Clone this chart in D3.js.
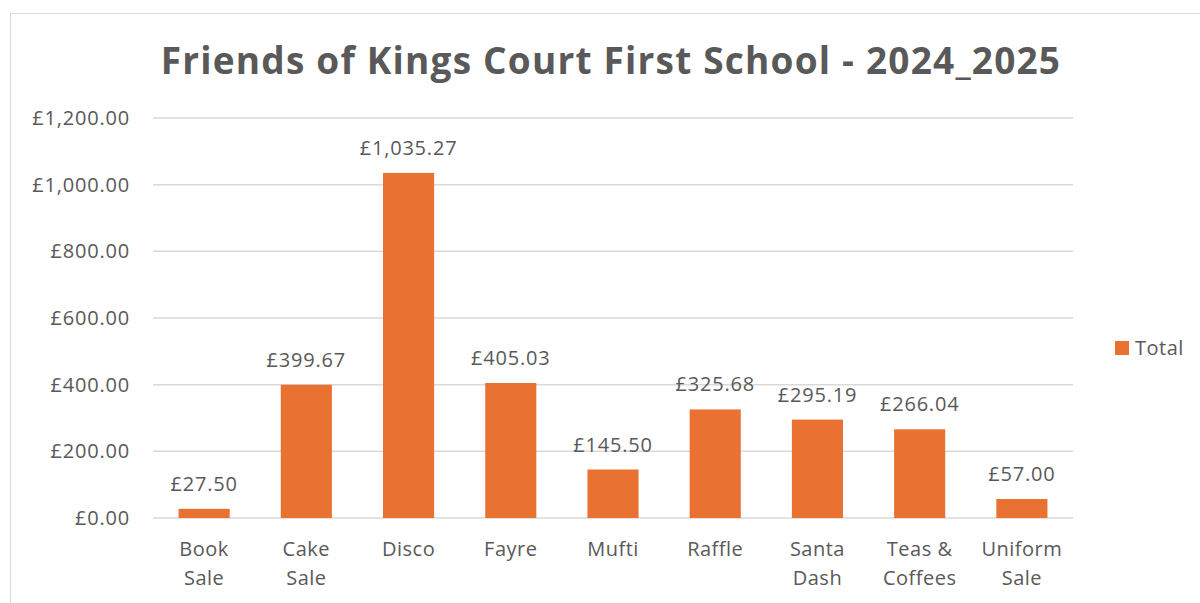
<!DOCTYPE html>
<meta charset="utf-8">
<style>
body { margin: 0; background: #fff; }
text { font-family: "Open Sans", Lato, sans-serif; fill: #595959; }
.bar { fill: #E97132; }
.grid line { stroke: #d9d9d9; stroke-width: 1.5; }
</style>
<body>
<script src="https://cdnjs.cloudflare.com/ajax/libs/d3/7.8.5/d3.min.js"></script>
<script>

// Data
var categories = ["Book Sale", "Cake Sale", "Disco", "Fayre", "Mufti", "Raffle", "Santa Dash", "Teas & Coffees", "Uniform Sale"];
var totals = [27.50, 399.67, 1035.27, 405.03, 145.50, 325.68, 295.19, 266.04, 57.00];
var yTicks = [0, 200, 400, 600, 800, 1000, 1200];
var seriesName = "Total";

var W = 1200, H = 603;
var margin = {top: 118, right: 127, bottom: 85, left: 153},
    width = W - margin.left - margin.right,
    height = H - margin.top - margin.bottom;

var svg = d3.select("body").append("svg")
    .attr("width", W)
    .attr("height", H);

// chart border
svg.append("rect")
    .attr("x", 10.5).attr("y", 13.5)
    .attr("width", W).attr("height", H)
    .attr("fill", "none").attr("stroke", "#d9d9d9").attr("stroke-width", 1);

svg.append("text")
    .attr("x", 611).attr("y", 74)
    .attr("text-anchor", "middle")
    .attr("font-size", "37px")
    .attr("font-weight", "bold")
    .attr("letter-spacing", "1.2px")
    .text("Friends of Kings Court First School - 2024_2025");

var g = svg.append("g")
    .attr("transform", "translate(" + margin.left + "," + margin.top + ")");

var x = d3.scaleBand().domain(categories).range([0, width]).paddingInner(0.5).paddingOuter(0.25);
var y = d3.scaleLinear().domain([0, 1200]).range([height, 0]);

var fmt = function(v) { return "£" + d3.format(",.2f")(v); };

// gridlines
g.append("g").attr("class", "grid")
    .selectAll("line").data(yTicks).enter().append("line")
    .attr("x1", 0).attr("x2", width)
    .attr("y1", function(d) { return y(d); })
    .attr("y2", function(d) { return y(d); });

// y axis
var yAxis = g.append("g")
    .call(d3.axisLeft(y).tickValues(yTicks).tickFormat(fmt).tickSize(0).tickPadding(23));
yAxis.select(".domain").remove();
yAxis.selectAll("text").attr("font-size", "20px").attr("letter-spacing", "0.8px")
    .attr("fill", "#595959").style("font-family", "'Open Sans', sans-serif");

var rows = categories.map(function(c, i) { return {cat: c, val: totals[i]}; });

// bars
g.selectAll(".bar").data(rows).enter().append("rect")
    .attr("class", "bar")
    .attr("x", function(d) { return x(d.cat); })
    .attr("width", x.bandwidth())
    .attr("y", function(d) { return y(d.val); })
    .attr("height", function(d) { return height - y(d.val); });

// value labels
g.selectAll(".lbl").data(rows).enter().append("text")
    .attr("class", "lbl")
    .attr("x", function(d) { return x(d.cat) + x.bandwidth() / 2; })
    .attr("y", function(d) { return y(d.val) - 18; })
    .attr("text-anchor", "middle")
    .attr("font-size", "20px")
    .attr("letter-spacing", "0.8px")
    .text(function(d) { return fmt(d.val); });

// x axis labels (wrapped)
var xAxis = g.append("g")
    .attr("transform", "translate(0," + height + ")")
    .call(d3.axisBottom(x).tickSize(0).tickFormat(""));
xAxis.select(".domain").remove();

var splits = {"Teas & Coffees": ["Teas &", "Coffees"]};
g.selectAll(".xl").data(categories).enter().append("text")
    .attr("class", "xl")
    .attr("text-anchor", "middle")
    .attr("font-size", "20px")
    .attr("letter-spacing", "0.5px")
    .attr("transform", function(d) { return "translate(" + (x(d) + x.bandwidth() / 2) + "," + (height + 38) + ")"; })
    .each(function(d) {
      var parts = splits[d] || d.split(" ");
      var t = d3.select(this);
      parts.forEach(function(p, i) {
        t.append("tspan").attr("x", 0).attr("dy", i === 0 ? 0 : 29).text(p);
      });
    });

// legend
var lg = svg.append("g").attr("transform", "translate(1115,341)");
lg.append("rect").attr("class", "bar").attr("width", 14).attr("height", 14);
lg.append("text").attr("x", 20).attr("y", 14).attr("font-size", "20px").attr("letter-spacing", "0.5px").text(seriesName);

</script>
</body>
